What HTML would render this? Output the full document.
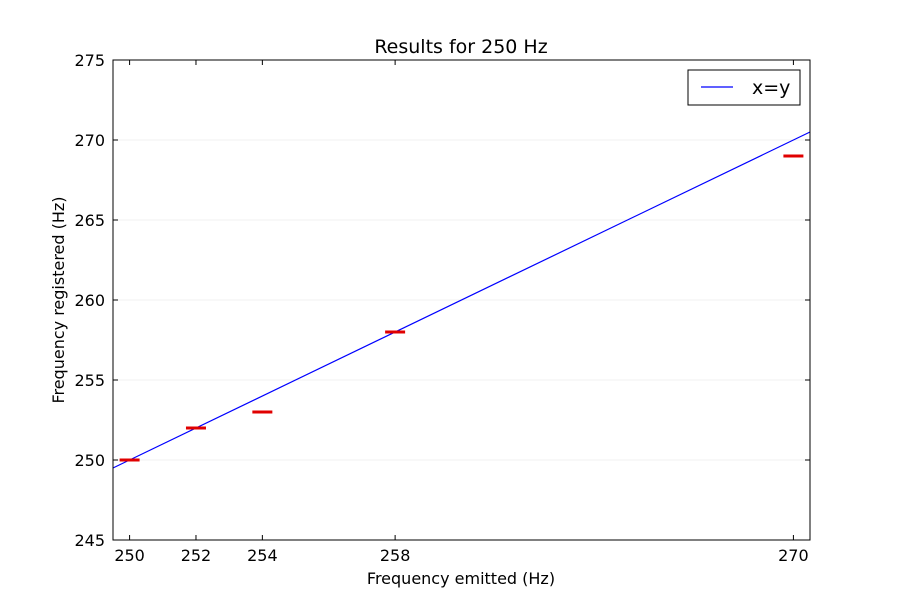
<!DOCTYPE html>
<html><head><meta charset="utf-8"><style>
body{margin:0;background:#fff;}
text{font-family:"DejaVu Sans","Liberation Sans",sans-serif;}
</style></head><body>
<svg id="chart" width="900" height="600" xmlns="http://www.w3.org/2000/svg">
<rect width="900" height="600" fill="#fff"/>
<g id="grid"></g><g id="marks"></g><g id="axes"></g>
</svg>
<script>
const xTicks=[250,252,254,258,270];
const yTicks=[245,250,255,260,265,270,275];
const emitted=[250,252,254,258,270];
const registered=[250,252,253,258,269];
const lineX=[249.5,270.5];
const L=113,R=810,T=60,B=540,x0=249.5,x1=270.5,y0=245,y1=275;
const X=v=>L+(v-x0)/(x1-x0)*(R-L);
const Y=v=>B-(v-y0)/(y1-y0)*(B-T);
const NS="http://www.w3.org/2000/svg";
function mk(tag,attrs,parent,txt){const e=document.createElementNS(NS,tag);for(const k in attrs)e.setAttribute(k,attrs[k]);if(txt!==undefined)e.textContent=txt;document.getElementById(parent).appendChild(e);return e;}
yTicks.forEach(v=>{if(v>y0&&v<y1){const g=mk('line',{x1:L,x2:R,y1:Y(v),y2:Y(v),stroke:'#f2f2f2','stroke-width':1},'grid');

}});
const ln=mk('line',{x1:X(lineX[0]),y1:Y(lineX[0]),x2:X(lineX[1]),y2:Y(lineX[1]),stroke:'#0000ff','stroke-width':1.2},'marks');


emitted.forEach((v,i)=>{const m=mk('line',{x1:X(v)-10,x2:X(v)+10,y1:Y(registered[i]),y2:Y(registered[i]),stroke:'#e00000','stroke-width':3},'marks');

});
const fr=mk('rect',{x:L,y:T,width:R-L,height:B-T,fill:'none',stroke:'#000','stroke-width':1},'axes');


xTicks.forEach(v=>{mk('line',{x1:X(v),x2:X(v),y1:B,y2:B-5,stroke:'#000'},'axes');mk('line',{x1:X(v),x2:X(v),y1:T,y2:T+5,stroke:'#000'},'axes');
const t=mk('text',{x:X(v),y:B+21,'text-anchor':'middle','font-size':16},'axes',String(v));

});
yTicks.forEach(v=>{mk('line',{x1:L,x2:L+5,y1:Y(v),y2:Y(v),stroke:'#000'},'axes');mk('line',{x1:R,x2:R-5,y1:Y(v),y2:Y(v),stroke:'#000'},'axes');
const t=mk('text',{x:L-8,y:Y(v)+6,'text-anchor':'end','font-size':16},'axes',String(v));

});
const tt=mk('text',{x:461,y:53,'text-anchor':'middle','font-size':19},'axes','Results for 250 Hz');


const xt=mk('text',{x:461,y:584,'text-anchor':'middle','font-size':16},'axes','Frequency emitted (Hz)');


const yt=mk('text',{x:64,y:300,'text-anchor':'middle','font-size':16,transform:'rotate(-90 64 300)'},'axes','Frequency registered (Hz)');


const lg=mk('rect',{x:688,y:70,width:112,height:35,fill:'#fff',stroke:'#000'},'axes');


const ll=mk('line',{x1:701,x2:733,y1:87,y2:87,stroke:'#0000ff','stroke-width':1.2},'axes');


const lt=mk('text',{x:752,y:94,'font-size':19},'axes','x=y');


</script>
</body></html>
